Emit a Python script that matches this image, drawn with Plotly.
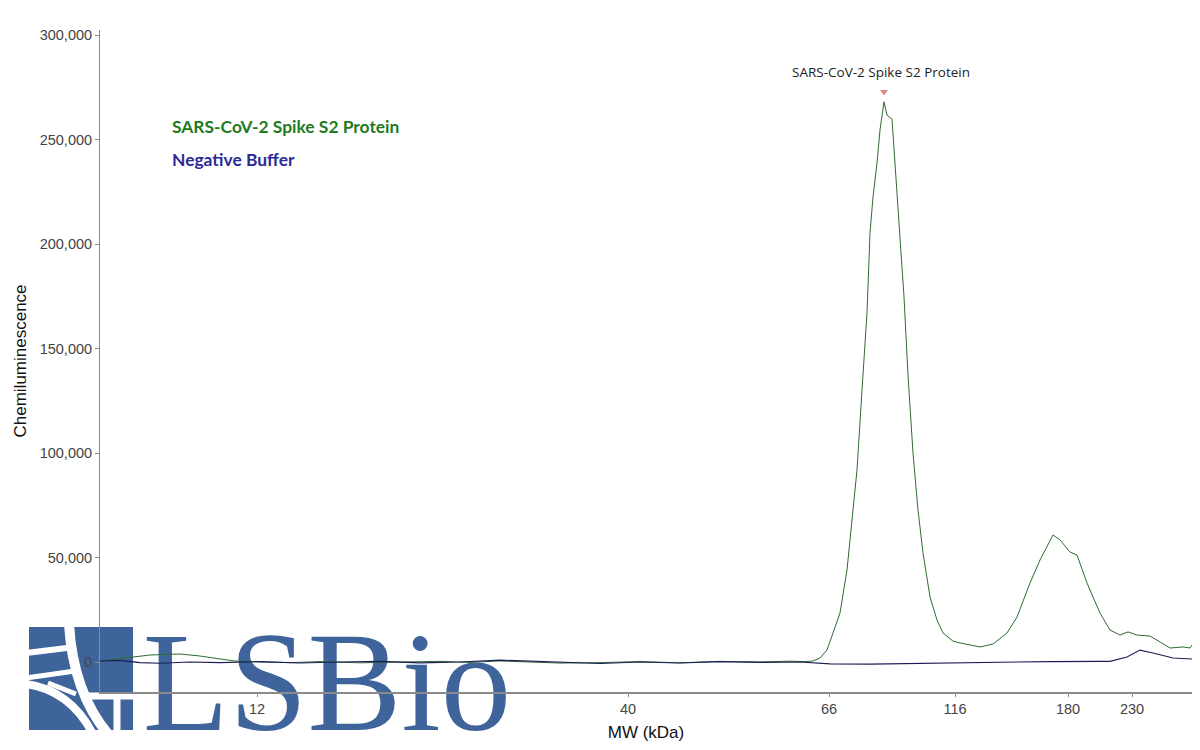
import plotly.graph_objects as go

# ---------------- data ----------------
# x positions are migration positions along the MW axis (arbitrary units, 0..1092)
tick_pos = [157, 528, 729, 855, 968, 1032]
tick_labels = ["12", "40", "66", "116", "180", "230"]

spike_pos = [0, 30, 50, 80, 100, 120, 135, 160, 190, 220, 260, 300, 340, 370, 400, 430, 460,
             500, 540, 580, 620, 660, 690, 705, 713, 720, 727, 733, 740, 747, 752, 757, 762,
             767, 770, 773, 777, 780, 784, 787, 792, 795, 798, 801, 804, 808, 813, 818, 823,
             830, 837, 843, 853, 860, 880, 893, 907, 917, 930, 940, 953, 960, 970, 977, 987,
             1000, 1010, 1020, 1028, 1037, 1050, 1060, 1070, 1083, 1090, 1092]
spike_val = [480, 2400, 3350, 3830, 2870, 1440, 480, 0, -300, 200, -400, 0, 300, -200, 500, 0,
             -500, -300, 200, -400, 300, 0, 400, 200, 480, 1900, 5740, 13900, 23450, 44000,
             67950, 91900, 130200, 167000, 205300, 222500, 238800, 254600, 268000, 261700,
             259800, 238800, 221100, 198600, 174700, 137300, 99900, 72700, 52200, 31100,
             20100, 13900, 10000, 9100, 7200, 8600, 13900, 21500, 37800, 48800, 60800, 58400,
             52600, 51200, 37800, 23400, 15300, 12900, 14400, 12900, 12400, 9600, 6700, 7200,
             6700, 8100]

buffer_pos = [0, 20, 40, 60, 90, 120, 160, 200, 240, 280, 320, 360, 400, 420, 460, 500, 540,
              580, 620, 660, 700, 730, 770, 810, 850, 900, 950, 1000, 1010, 1027, 1040, 1053,
              1067, 1073, 1092]
buffer_val = [500, 800, -300, -600, 0, -300, 200, -500, 0, 300, -400, 0, 900, 600, -300,
              -700, 0, -500, 200, -200, 0, -900, -1000, -700, -300, -200, 200, 300, 300, 2400,
              5700, 4300, 2400, 1900, 1400]

series_names = ["SARS-CoV-2 Spike S2 Protein", "Negative Buffer"]
series_colors = ["#2f6b2f", "#1c1c58"]
label_colors = ["#1f7a1f", "#2a2a96"]
y_ticks = [0, 50000, 100000, 150000, 200000, 250000, 300000]

# ---------------- figure ----------------
OFF = 8  # page body margin in the browser
W, H = 1200 - OFF, 750 - OFF
L, R, T, B = 100 - OFF, 8, 30 - OFF, 58
pw, ph = W - L - R, H - T - B


def px(x, y):
    """page pixel -> paper coords (for the decorative logo / text labels)."""
    return (x - OFF - L) / pw, (H - B - (y - OFF)) / ph


fig = go.Figure()

# watermark logo text (drawn first so curves sit on top)
fig.add_trace(go.Scatter(
    x=[227], y=[18200], mode="text", text=["LSBio"],
    textfont=dict(family="Liberation Serif, Times New Roman, serif", size=141, color="#3f649b"),
    textposition="bottom center", cliponaxis=False, hoverinfo="skip", showlegend=False))

fig.add_trace(go.Scatter(x=spike_pos, y=spike_val, mode="lines", name=series_names[0],
                         line=dict(color=series_colors[0], width=1.0), showlegend=False))
fig.add_trace(go.Scatter(x=buffer_pos, y=buffer_val, mode="lines", name=series_names[1],
                         line=dict(color=series_colors[1], width=1.1), showlegend=False))

# peak marker
imax = max(range(len(spike_val)), key=lambda i: spike_val[i])
fig.add_trace(go.Scatter(x=[spike_pos[imax]], y=[spike_val[imax] + 4800], mode="markers",
                         marker=dict(symbol="triangle-down", size=7, color="#e08585"),
                         hoverinfo="skip", showlegend=False))
fig.add_annotation(x=spike_pos[imax], y=spike_val[imax], text=series_names[0], showarrow=False,
                   yshift=30, xshift=-3, font=dict(family="Open Sans, Lato, sans-serif", size=13.5, color="#222"))

# text legend
for i, (nm, c) in enumerate(zip(series_names, label_colors)):
    x0, y0 = px(170, 126 + 33 * i)
    fig.add_annotation(x=x0, y=y0, xref="paper", yref="paper", text="<b>%s</b>" % nm,
                       showarrow=False, xanchor="left", yanchor="middle",
                       font=dict(family="Lato, Open Sans, sans-serif", size=17.4, color=c))

# logo icon (shapes below the plot)
logo_blue = "#3f649b"
x0, y0 = px(29, 627)
x1, y1 = px(133, 730)
fig.add_shape(type="rect", xref="paper", yref="paper", x0=x0, y0=y1, x1=x1, y1=y0,
              fillcolor=logo_blue, line=dict(width=0), layer="below")


def path(points):
    s = ""
    for j, (a, b) in enumerate(points):
        xx, yy = px(a, b)
        if j == 0:
            cmd = "M"
        elif len(points) == 3:
            cmd = "Q" if j == 1 else ""
        else:
            cmd = "L"
        s += "%s %.5f,%.5f " % (cmd, xx, yy)
    return s.strip()


white_strokes = [
    ([(69, 624), (73, 692), (108, 734)], 10),
    ([(26, 684), (70, 690), (93, 734)], 8),
    ([(26, 653), (75, 647)], 6),
    ([(26, 678), (75, 671)], 5),
    ([(48, 683), (76, 694)], 5),
    ([(82, 696), (136, 696)], 7),
    ([(117, 698), (117, 734)], 7),
]
for pts, w in white_strokes:
    fig.add_shape(type="path", xref="paper", yref="paper", path=path(pts),
                  line=dict(color="white", width=w), layer="below")

axis_font = dict(family="Liberation Sans, Arial, sans-serif", size=14.5, color="#444")
fig.update_layout(
    width=W, height=H, margin=dict(l=L, r=R, t=T, b=B),
    paper_bgcolor="white", plot_bgcolor="rgba(0,0,0,0)",
    xaxis=dict(range=[0, pw], tickmode="array", tickvals=tick_pos, ticktext=tick_labels,
               showgrid=False, zeroline=False, showline=True, linecolor="#8a8a8a", linewidth=2,
               ticks="outside", ticklen=3, tickcolor="#8a8a8a", tickfont=axis_font,
               title=dict(text="MW (kDa)", font=dict(family="Liberation Sans, Arial, sans-serif",
                                                     size=17, color="#111"), standoff=10)),
    yaxis=dict(range=[-14354, 302400], tickmode="array", tickvals=y_ticks,
               tickformat=",d", showgrid=False, zeroline=False, showline=True,
               linecolor="#8a8a8a", linewidth=1, ticks="outside", ticklen=4, tickcolor="#8a8a8a",
               tickfont=axis_font,
               title=dict(text="Chemiluminescence", font=dict(family="Liberation Sans, Arial, sans-serif",
                                                             size=17, color="#111"), standoff=8)),
)

fig.write_html("out.html")
